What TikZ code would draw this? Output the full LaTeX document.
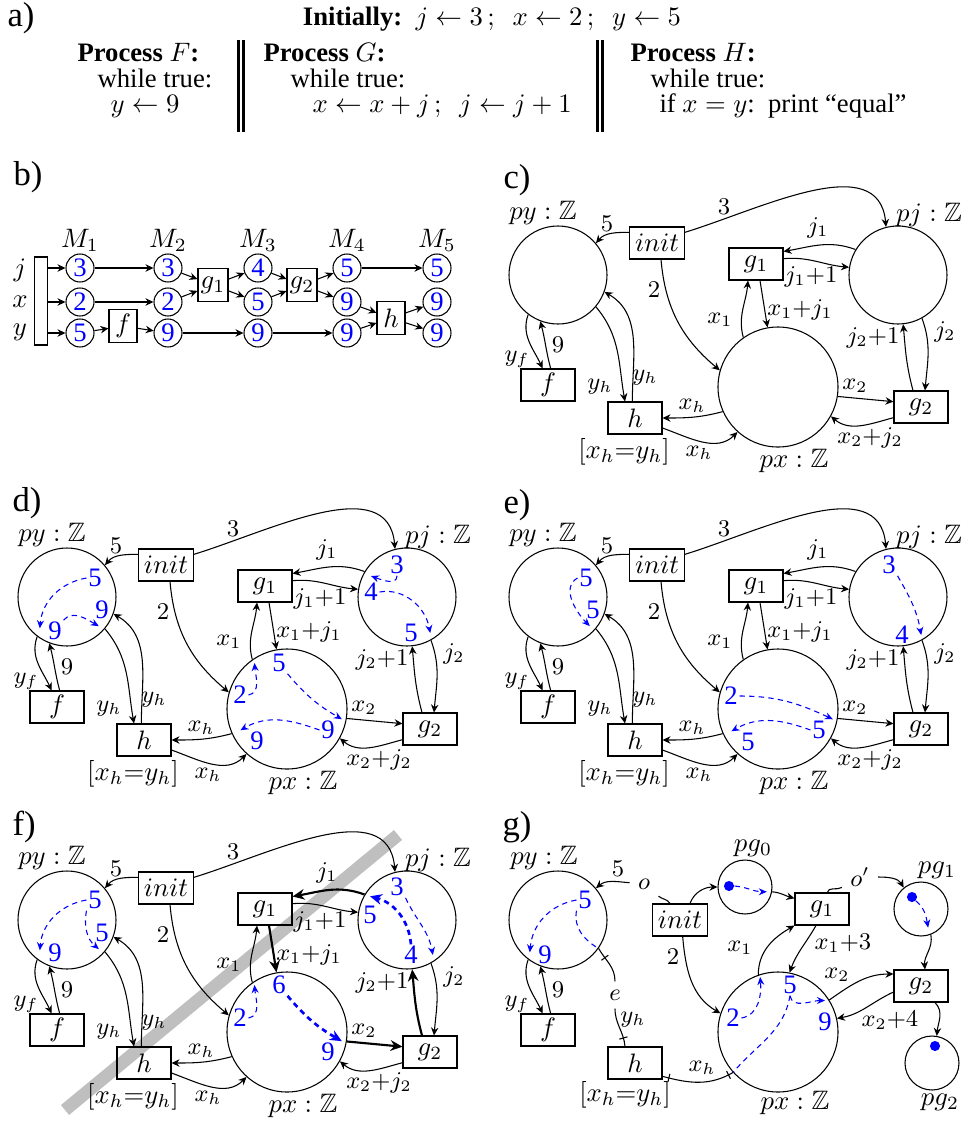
\documentclass[tikz,border=0pt]{standalone}
\usepackage[no-math]{fontspec}
\setmainfont{Liberation Serif}
\usepackage{amssymb}
\usetikzlibrary{arrows.meta,decorations.markings}

% the net shared by panels c) to f); #1 = style of the highlighted arcs
\newcommand{\basenet}[1]{%
  \node[place] (py) at (558,-275) {};
  \node[place] (pj) at (898,-275) {};
  \node[bigplace] (px) at (778,-387) {};
  \node[lab] (pylab) at (543,-213) {$py:\mathbb{Z}$};
  \node[lab] (pjlab) at (929,-215) {$pj:\mathbb{Z}$};
  \node[lab] (pxlab) at (794,-461) {$px:\mathbb{Z}$};
  \node[trans] (init) at (657,-243) {$init$};
  \node[trans] (g1) at (756,-264) {$g_1$};
  \node[trans] (g2) at (921,-407) {$g_2$};
  \node[trans] (f) at (548,-385) {$f$};
  \node[trans] (h) at (635,-418) {$h$};
  \node[lab] (guard) at (624,-452) {$[x_h{=}y_h]$};
  \draw[arr] ([yshift=4pt]init.west) to[out=180,in=50] (py.40);
  \draw[arr] ([yshift=4pt]init.east) to[out=17,in=95] (pj.104);
  \draw[arr] ([xshift=1.5pt]init.south) to[out=-85,in=140] (px.164);
  \draw[#1] (pj.149) to[out=160,in=10] ([yshift=-1.5pt]g1.north east);
  \draw[arr] ([yshift=2pt]g1.east) to[out=5,in=175] (pj.171);
  \draw[arr] (px.125) to[out=105,in=-95] ([xshift=-3pt]g1.south);
  \draw[#1] ([xshift=1.5pt]g1.south) -- (px.100);
  \draw[arr] (pj.-61) to[out=-70,in=85] ([xshift=1.5pt]g2.north);
  \draw[#1] ([xshift=-3pt]g2.north) to[out=105,in=-85] (pj.-84);
  \draw[#1] (px.-9) -- ([yshift=2pt]g2.west);
  \draw[arr] ([yshift=-4pt]g2.west) to[out=195,in=-40] (px.-29);
  \draw[arr] (px.204) to[out=195,in=0] (h.east);
  \draw[arr] ([yshift=-3.75pt]h.east) to[out=-20,in=225] (px.228);
  \draw[arr] (py.-40) to[out=-50,in=100] ([xshift=-3.75pt]h.north);
  \draw[arr] ([xshift=-1pt]h.north) to[out=90,in=-30] (py.-20);
  \draw[arr] (py.233) to[out=250,in=115] ([xshift=-2pt]f.north);
  \draw[arr] ([xshift=1pt]f.north) to[out=105,in=-75] (py.249);
  \node[elab] (l5) at (607,-224) {$5$};
  \node[elab] (l3) at (724,-207) {$3$};
  \node[elab] (l2) at (654,-290) {$2$};
  \node[elab] (lj1) at (818,-228) {$j_1$};
  \node[elab] (lj1p) at (811,-277) {$j_1{+}1$};
  \node[elab] (lx1) at (720,-320) {$x_1$};
  \node[elab] (lx1j) at (800,-310) {$x_1{+}j_1$};
  \node[elab] (lj2) at (945,-332) {$j_2$};
  \node[elab] (lj2p) at (873,-338) {$j_2{+}1$};
  \node[elab] (lx2) at (855,-386) {$x_2$};
  \node[elab] (lx2j) at (870,-438) {$x_2{+}j_2$};
  \node[elab] (lxh) at (692,-406) {$x_h$};
  \node[elab] (lxhb) at (699,-453) {$x_h$};
  \node[elab] (lyh) at (600,-387) {$y_h$};
  \node[elab] (lyhb) at (645,-378) {$y_h$};
  \node[elab] (lyf) at (517,-359) {$y_f$};
  \node[elab] (l9) at (558,-345) {$9$};
}

\begin{document}
\begin{tikzpicture}[x=0.375pt, y=0.375pt,
  place/.style={circle, draw, minimum size=36.75pt, inner sep=0pt},
  bigplace/.style={place, minimum size=45pt},
  smallplace/.style={place, minimum size=20.25pt},
  trans/.style={rectangle, draw, minimum width=20.25pt, minimum height=12pt, inner xsep=2pt, inner ysep=1pt},
  btrans/.style={rectangle, draw, minimum width=10.5pt, minimum height=12.3pt, inner sep=1pt},
  bbar/.style={rectangle, draw, minimum width=4.9pt, minimum height=33pt, inner sep=0pt},
  valc/.style={circle, draw, text=blue, minimum size=10.5pt, inner sep=0pt},
  lab/.style={inner sep=0pt},
  elab/.style={inner sep=0pt, font=\small},
  gap/.style={inner sep=3pt, font=\small},
  code/.style={anchor=west, inner sep=0pt},
  panel/.style={anchor=west, inner sep=0pt, font=\fontsize{13}{15}\selectfont},
  tok/.style={text=blue, inner sep=0.5pt},
  tokdot/.style={circle, fill=blue, inner sep=0pt, minimum size=3.8pt},
  arr/.style={-{Stealth[length=3pt,width=2.8pt]}},
  heavy/.style={thick, -{Stealth[length=4.5pt,width=4pt]}},
  trail/.style={blue, dash pattern=on 2pt off 1.6pt},
  flow/.style={trail, -{Stealth[length=3pt,width=2.6pt]}},
  bigflow/.style={flow, line width=1pt, -{Stealth[length=4.5pt,width=4pt]}},
  tickat/.style={postaction={decorate, decoration={markings, mark=at position #1 with {\draw (0,-1.6pt) -- (0,1.6pt);}}}}
]
\useasboundingbox (0,0) rectangle (971,-1122);

% a) the program
\node[panel] (la) at (7,-18) {a)};
\node[inner sep=0pt] (ini) at (492,-19) {\textbf{Initially:}\ \ $j\leftarrow 3\,;\ \ x\leftarrow 2\,;\ \ y\leftarrow 5$};
\node[code] (aF1) at (77,-53) {\textbf{Process} $F$\textbf{:}};
\node[code] (aF2) at (97,-78) {while true:};
\node[code] (aF3) at (110,-106) {$y\leftarrow 9$};
\node[code] (aG1) at (263,-53) {\textbf{Process} $G$\textbf{:}};
\node[code] (aG2) at (290,-78) {while true:};
\node[code] (aG3) at (312,-106) {$x\leftarrow x+j\,;\ \ j\leftarrow j+1$};
\node[code] (aH1) at (630,-53) {\textbf{Process} $H$\textbf{:}};
\node[code] (aH2) at (650,-78) {while true:};
\node[code] (aH3) at (659,-106) {if $x=y$:\ \ print ``equal''};
\draw[line width=1pt] (238.5,-40) -- (238.5,-132) (243.5,-40) -- (243.5,-132);
\draw[line width=1pt] (597.5,-40) -- (597.5,-132) (602.5,-40) -- (602.5,-132);

% b) markings
\node[panel] (lb) at (13,-177) {b)};
\node[lab] (bM1) at (80,-240) {$M_1$};
\node[lab] (bM2) at (168,-240) {$M_2$};
\node[lab] (bM3) at (258,-240) {$M_3$};
\node[lab] (bM4) at (347,-240) {$M_4$};
\node[lab] (bM5) at (437,-240) {$M_5$};
\node[lab] (bj) at (20,-270) {$j$};
\node[lab] (bx) at (20,-302) {$x$};
\node[lab] (by) at (20,-332) {$y$};
\node[bbar] (bar) at (41,-301) {};
\node[valc] (m1j) at (80,-268) {3};
\node[valc] (m1x) at (80,-302) {2};
\node[valc] (m1y) at (80,-333) {5};
\node[valc] (m2j) at (168,-268) {3};
\node[valc] (m2x) at (168,-302) {2};
\node[valc] (m2y) at (168,-333) {9};
\node[valc] (m3j) at (258,-268) {4};
\node[valc] (m3x) at (258,-302) {5};
\node[valc] (m3y) at (258,-333) {9};
\node[valc] (m4j) at (347,-268) {5};
\node[valc] (m4x) at (347,-302) {9};
\node[valc] (m4y) at (347,-333) {9};
\node[valc] (m5j) at (437,-268) {5};
\node[valc] (m5x) at (437,-302) {9};
\node[valc] (m5y) at (437,-333) {9};
\node[btrans] (bf) at (123,-326) {$f$};
\node[btrans] (bg1) at (213,-285) {$g_1$};
\node[btrans] (bg2) at (302,-285) {$g_2$};
\node[btrans] (bh) at (391,-318) {$h$};
\draw[arr] (bar.east |- m1j) -- (m1j);
\draw[arr] (bar.east |- m1x) -- (m1x);
\draw[arr] (bar.east |- m1y) -- (m1y);
\draw[arr] (m1j) -- (m2j);
\draw[arr] (m1x) -- (m2x);
\draw[arr] (m1y) -- (bf);
\draw[arr] (bf) -- (m2y);
\draw[arr] (m2j) -- (bg1);
\draw[arr] (m2x) -- (bg1);
\draw[arr] (bg1) -- (m3j);
\draw[arr] (bg1) -- (m3x);
\draw[arr] (m2y) -- (m3y);
\draw[arr] (m3j) -- (bg2);
\draw[arr] (m3x) -- (bg2);
\draw[arr] (bg2) -- (m4j);
\draw[arr] (bg2) -- (m4x);
\draw[arr] (m3y) -- (m4y);
\draw[arr] (m4j) -- (m5j);
\draw[arr] (m4x) -- (bh);
\draw[arr] (m4y) -- (bh);
\draw[arr] (bh) -- (m5x);
\draw[arr] (bh) -- (m5y);

% c) the net
\node[panel] (lc) at (503,-180) {c)};
\basenet{arr}

% d)
\node[panel] (ld) at (12,-503) {d)};
\begin{scope}[shift={(-491,-322)}]
\basenet{arr}
\node[tok] (t5) at (586,-256) {5};
\node[tok] (t9r) at (593,-288) {9};
\node[tok] (t9l) at (546,-309) {9};
\draw[flow] (t5.west) to[out=190,in=85] ([xshift=-2.5pt,yshift=1pt]t9l.west);
\draw[flow] (t9l.north east) to[out=50,in=150] ([xshift=2pt,yshift=-2pt]t9r.south west);
\node[tok] (t3) at (888,-243) {3};
\node[tok] (t4) at (862,-270) {4};
\node[tok] (t5j) at (902,-311) {5};
\draw[flow] (t3.south) to[out=-90,in=-20] ([yshift=2pt]t4.north);
\draw[flow] (t4.east) to[out=10,in=100] ([xshift=4pt]t5j.east);
\node[tok] (t2) at (731,-373) {2};
\node[tok] (t5x) at (770,-341) {5};
\node[tok] (t9a) at (819,-408) {9};
\node[tok] (t9b) at (748,-419) {9};
\draw[flow] (t2.east) to[out=10,in=-85] ([xshift=-6pt]t5x.west);
\draw[flow] (t5x.south east) to[out=-50,in=150] ([xshift=2pt]t9a.north east);
\draw[flow] (t9a.west) to[out=160,in=30] ([xshift=-3pt]t9b.north west);
\end{scope}

% e)
\node[panel] (le) at (503,-505) {e)};
\begin{scope}[shift={(0,-322)}]
\basenet{arr}
\node[tok] (t5a) at (586,-256) {5};
\node[tok] (t5b) at (593,-288) {5};
\draw[flow] (t5a.west) to[out=210,in=135] ([xshift=2pt,yshift=-2pt]t5b.south west);
\node[tok] (t3) at (889,-243) {3};
\node[tok] (t4) at (902,-313) {4};
\draw[flow] (t3.south east) to[out=-60,in=100] ([xshift=4pt]t4.east);
\node[tok] (t2) at (731,-374) {2};
\node[tok] (t5c) at (819,-408) {5};
\node[tok] (t5d) at (748,-420) {5};
\draw[flow] (t2.east) to[out=0,in=155] ([xshift=2pt]t5c.north east);
\draw[flow] (t5c.west) to[out=160,in=30] ([xshift=-3pt]t5d.north west);
\end{scope}

% f)
\node[panel] (lf) at (12,-827) {f)};
\begin{scope}[shift={(-491,-645)}]
\draw[line width=4.8pt, black!25] (556,-465) -- (889,-190);
\basenet{heavy}
\node[tok] (t5a) at (586,-255) {5};
\node[tok] (t5b) at (593,-288) {5};
\node[tok] (t9) at (546,-308) {9};
\draw[flow] (t5a.west) to[out=190,in=85] ([xshift=-2.5pt,yshift=1pt]t9.west);
\draw[flow] (t5a.south west) to[out=-100,in=140] ([xshift=2pt,yshift=-2pt]t5b.south west);
\node[tok] (t3) at (888,-242) {3};
\node[tok] (t5j) at (861,-270) {5};
\node[tok] (t4) at (902,-310) {4};
\draw[bigflow] (t4.north) to[out=95,in=-15] ([yshift=3pt]t5j.north);
\draw[flow] (t3.south east) to[out=-65,in=100] ([xshift=5pt]t4.east);
\node[tok] (t2) at (731,-373) {2};
\node[tok] (t6) at (770,-340) {6};
\node[tok] (t9x) at (819,-407) {9};
\draw[flow] (t2.east) to[out=10,in=-85] ([xshift=-6pt]t6.west);
\draw[bigflow] (t6.south east) to[out=-50,in=150] ([xshift=2pt]t9x.north east);
\end{scope}

% g)
\node[panel] (lg) at (502,-827) {g)};
\begin{scope}[shift={(0,-645)}]
\node[place] (py) at (558,-275) {};
\node[bigplace] (px) at (778,-387) {};
\node[smallplace] (pg0) at (745,-242) {};
\node[smallplace] (pg1) at (921,-264) {};
\node[smallplace] (pg2) at (932,-418) {};
\node[lab] (pylab) at (544,-213) {$py:\mathbb{Z}$};
\node[lab] (pxlab) at (795,-458) {$px:\mathbb{Z}$};
\node[lab] (pg0lab) at (753,-203) {$pg_0$};
\node[lab] (pg1lab) at (937,-225) {$pg_1$};
\node[lab] (pg2lab) at (940,-457) {$pg_2$};
\node[trans] (init) at (680,-275) {$init$};
\node[trans] (g1) at (822,-264) {$g_1$};
\node[trans] (g2) at (921,-341) {$g_2$};
\node[trans] (f) at (548,-385) {$f$};
\node[trans] (h) at (635,-418) {$h$};
\node[lab] (guard) at (625,-450) {$[x_h{=}y_h]$};
\node[gap] (o) at (644,-239) {$o$};
\node[gap] (oprime) at (860,-232) {$o'$};
\node[gap] (e) at (615,-350) {$e$};
\draw ([xshift=-3.75pt]init.north) to[out=120,in=-40] (o);
\draw[arr] (o) to[out=175,in=40] (py.40);
\draw[arr] ([xshift=3.75pt]init.north) to[out=70,in=180] (pg0.west);
\draw[arr] (pg0.-10) to[out=-5,in=165] ([yshift=4pt]g1.west);
\draw ([xshift=2pt]g1.north) to[out=80,in=210] (oprime);
\draw[arr] (oprime) to[out=0,in=120] (pg1.129);
\draw[arr] ([xshift=1pt]init.south) to[out=-85,in=150] (px.162);
\draw[arr] (px.109) to[out=90,in=210] (g1.south west);
\draw[arr] ([xshift=-2.25pt]g1.south) to[out=-120,in=70] (px.79);
\draw[arr] (pg1.-69) to[out=-80,in=95] ([xshift=1.5pt]g2.north);
\draw[arr] (px.32) to[out=35,in=180] ([yshift=4.5pt]g2.west);
\draw[arr] ([yshift=-2.25pt]g2.west) to[out=205,in=10] (px.13);
\draw[arr] ([xshift=5.25pt]g2.south) to[out=-45,in=85] (pg2.80);
\draw[arr] (py.233) to[out=250,in=115] ([xshift=-2pt]f.north);
\draw[arr] ([xshift=1pt]f.north) to[out=105,in=-75] (py.249);
\draw[tickat=0.3] (py.-35) to[out=-60,in=90] (e);
\draw[tickat=0.78] (e) to[out=-90,in=95] ([xshift=-3.75pt]h.north);
\draw[tickat=0.09, tickat=0.93] ([yshift=-5pt]h.east) to[out=-15,in=210] (px.222);
\node[elab] (l5) at (618,-224) {$5$};
\node[elab] (l2) at (673,-312) {$2$};
\node[elab] (lx1) at (740,-303) {$x_1$};
\node[elab] (lx13) at (843,-298) {$x_1{+}3$};
\node[elab] (lx2) at (837,-330) {$x_2$};
\node[elab] (lx24) at (890,-375) {$x_2{+}4$};
\node[elab] (lyh) at (633,-375) {$y_h$};
\node[elab] (lxh) at (702,-423) {$x_h$};
\node[elab] (lyf) at (517,-359) {$y_f$};
\node[elab] (l9) at (558,-345) {$9$};
\node[tok] (t5) at (585,-255) {5};
\node[tok] (t9) at (545,-310) {9};
\draw[flow] (t5.west) to[out=190,in=85] ([xshift=-2.5pt,yshift=1pt]t9.west);
\draw[trail] (t5.south west) to[out=-100,in=150] (py.-35);
\node[tok] (t2) at (733,-373) {2};
\node[tok] (t5x) at (790,-340) {5};
\node[tok] (t9x) at (825,-377) {9};
\draw[flow] (t2.east) to[out=10,in=-85] ([xshift=-8pt,yshift=3pt]t5x.west);
\draw[flow] (t5x.south) to[out=-80,in=180] ([yshift=4pt]t9x.north);
\draw[trail] (t5x.south) to[out=-100,in=50] (px.222);
\node[tokdot] (d0) at (729,-241) {};
\draw[flow] (d0.east) to[out=-5,in=180] ([xshift=-2pt]pg0.-10);
\node[tokdot] (d1) at (912,-252) {};
\draw[flow] (d1.south east) to[out=-40,in=100] ([yshift=3pt]pg1.-75);
\node[tokdot] (d2) at (935,-401) {};
\end{scope}
\end{tikzpicture}
\end{document}
